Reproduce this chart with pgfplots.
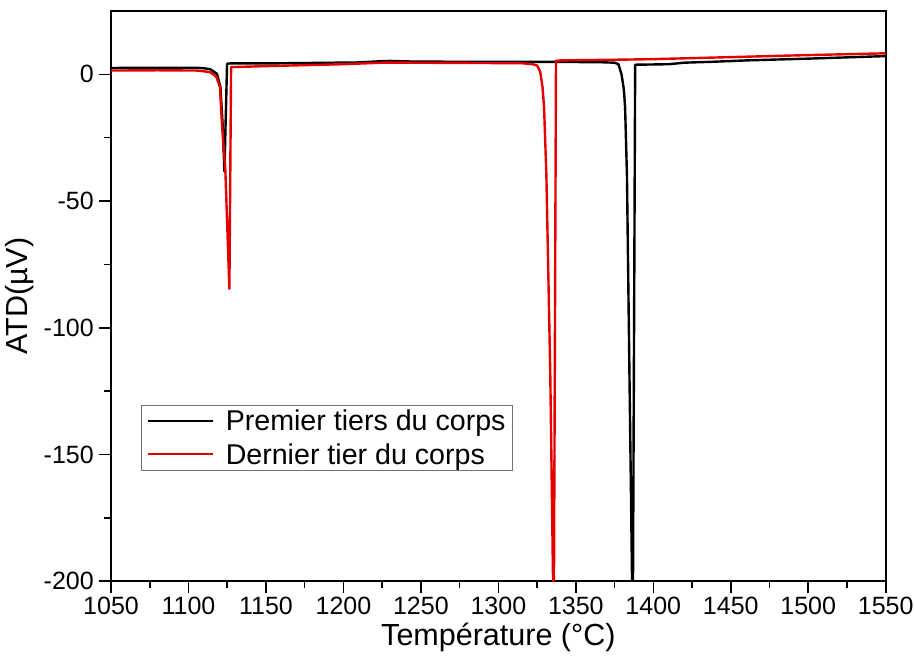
\documentclass[border=0pt]{standalone}
\usepackage{pgfplots}
\pgfplotsset{compat=1.18}
\usepackage{fontspec}
\setmainfont{Liberation Sans}
\begin{document}
\begin{tikzpicture}
\begin{axis}[
  name=ax,
  scale only axis,
  width=774.5pt, height=570pt,
  xmin=1050, xmax=1550, ymin=-200, ymax=25,
  xtick={1050,1100,...,1550},
  ytick={-200,-150,...,0},
  minor x tick num=1, minor y tick num=1,
  tick pos=left, tick align=outside,
  major tick length=11.7pt, minor tick length=6.7pt,
  every tick/.style={black, line width=1.6pt},
  axis line style={line width=2pt},
  /pgf/number format/assume math mode=true,
  /pgf/number format/1000 sep={},
  ticklabel style={font=\fontsize{25}{28}\selectfont},
  xticklabel style={yshift=-1pt},
  yticklabel style={xshift=-2pt},
  xlabel={Température (°C)},
  ylabel={ATD(µV)},
  label style={font=\fontsize{30.5}{34}\selectfont},
  xlabel style={yshift=-1pt},
  ylabel style={yshift=3pt},
  legend style={at={(rel axis cs:0.039,0.193)}, anchor=south west,
    draw=black!55, line width=1pt, font=\fontsize{28.6}{31}\selectfont,
    inner xsep=5pt, inner ysep=3pt, row sep=7pt,
    /tikz/every odd column/.append style={column sep=10pt},
    /tikz/every even column/.append style={column sep=4pt}},
  legend cell align=left,
  legend image code/.code={\draw[#1, line width=2pt] (0pt,0pt) -- (65pt,0pt);},
  clip=true,
]
\addplot[black, line width=2.4pt, line join=round] coordinates {
(1050,2.5) (1070,2.6) (1090,2.6) (1105,2.6) (1110,2.4) (1114.1,2.0) (1116.5,1.0) (1118.4,0.2) (1120.6,-5) (1122,-19.4) (1123.2,-38.3) (1124.9,4.2) (1127,4.3) (1150,4.3) (1180,4.5) (1210,4.7) (1225,5.2) (1230,5.3) (1240,5.1) (1260,5.0) (1300,4.9) (1340,4.9) (1365,4.8) (1375,4.6) (1377.5,4.0) (1379.5,0) (1381,-6) (1381.8,-13) (1383,-40) (1384.6,-118) (1386.3,-200) (1386.8,-215) (1388.3,3.8) (1400,3.9) (1410,4.0) (1420,4.6) (1440,5.0) (1460,5.5) (1500,6.2) (1550,7.2)
};
\addlegendentry{Premier tiers du corps}
\addplot[red!90!black, line width=2.4pt, line join=round] coordinates {
(1050,1.5) (1080,1.6) (1105,1.5) (1110,1.2) (1114,0.8) (1116,0) (1118,-1) (1120.3,-5) (1121.6,-19.5) (1123.8,-38) (1126.4,-84.6) (1127.5,2.9) (1130,2.9) (1160,3.4) (1200,4.0) (1225,4.6) (1240,4.6) (1280,4.5) (1315,4.4) (1322,4.0) (1325,3.5) (1327,1) (1328.5,-5) (1329.5,-13) (1331,-40) (1333.5,-118) (1335.3,-200) (1335.8,-215) (1337.2,5.3) (1340,5.5) (1380,5.8) (1400,6.0) (1450,6.8) (1500,7.6) (1550,8.3)
};
\addlegendentry{Dernier tier du corps}
\end{axis}
\pgfresetboundingbox
\path[use as bounding box] ([shift={(-111pt,-74pt)}]ax.south west) rectangle ([shift={(28.3pt,11pt)}]ax.north east);
\end{tikzpicture}
\end{document}
